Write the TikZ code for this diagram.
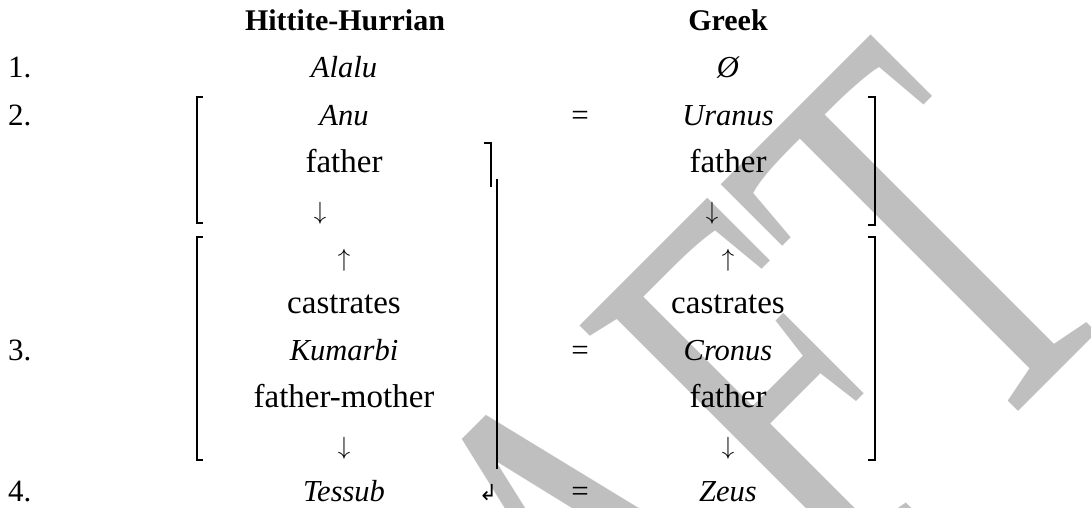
\documentclass[tikz,border=0pt]{standalone}
\usepackage{fontspec}
\setmainfont{Liberation Serif}
\newfontfamily\arrowfont{DejaVu Sans}
\begin{document}
\begin{tikzpicture}[x=1pt,y=-1pt,
  txt/.style={anchor=base, inner sep=0pt, font=\fontsize{33}{38}\selectfont},
  god/.style={anchor=base, inner sep=0pt, font=\fontsize{30.5}{36}\selectfont\itshape},
  arr/.style={anchor=base, inner sep=0pt, font=\fontsize{31}{36}\selectfont},
  head/.style={anchor=base, inner sep=0pt, font=\fontsize{30}{36}\selectfont\bfseries},
  num/.style={anchor=base west, inner sep=0pt, font=\fontsize{31}{36}\selectfont},
  brk/.style={line width=1.6pt, line cap=rect}]
\useasboundingbox (0,0) rectangle (1091,508);
% background watermark, tall condensed letters on a 45 degree baseline
\node[anchor=base east, inner sep=0pt, rotate=45, text=black!25,
      font=\fontsize{566}{566}\selectfont] (wm) at (1138,292)
      {\scalebox{0.65}[1]{DRAFT}};

% headings
\node[head] (hh) at (345,31) {Hittite-Hurrian};
\node[head] (hg) at (728,31) {Greek};

% row numbers
\node[num] (n1) at (8,78) {1.};
\node[num] (n2) at (8,125) {2.};
\node[num] (n3) at (8,360) {3.};
\node[num] (n4) at (8,501) {4.};

% Hittite-Hurrian column
\node[god] (alalu) at (344,78) {Alalu};
\node[god] (anu) at (344,125) {Anu};
\node[txt] (f1) at (344,172) {father};
\node[arr] (d1) at (320,219) {$\downarrow$};
\node[arr] (u1) at (344,266) {$\uparrow$};
\node[txt] (c1) at (344,313) {castrates};
\node[god] (kum) at (344,360) {Kumarbi};
\node[txt] (fm) at (344,407) {father-mother};
\node[arr] (d2) at (344,454) {$\downarrow$};
\node[god] (tes) at (344,501) {Tessub};

% equals signs
\node[arr] (e2) at (580,125) {=};
\node[arr] (e3) at (580,360) {=};
\node[arr] (e4) at (580,501) {=};

% Greek column
\node[god] (empty) at (728,78) {Ø};
\node[god] (ura) at (728,125) {Uranus};
\node[txt] (f2) at (728,172) {father};
\node[arr] (d3) at (712,219) {$\downarrow$};
\node[arr] (u2) at (728,266) {$\uparrow$};
\node[txt] (c2) at (728,313) {castrates};
\node[god] (cro) at (728,360) {Cronus};
\node[txt] (f3) at (728,407) {father};
\node[arr] (d4) at (728,454) {$\downarrow$};
\node[god] (zeus) at (728,501) {Zeus};

% hook arrow closing the long bar
\node[anchor=base, inner sep=0pt, font=\fontsize{22}{26}\arrowfont] (hook) at (488,500) {↲};

% brackets
\draw[brk] (202,97) -- (197,97) -- (197,223) -- (202,223);
\draw[brk] (202,237) -- (197,237) -- (197,460) -- (202,460);
\draw[brk] (869,97) -- (875,97) -- (875,225) -- (869,225);
\draw[brk] (869,237) -- (875,237) -- (875,460) -- (869,460);
\draw[brk] (485,143) -- (491,143) -- (491,186);
\draw[brk] (497,180) -- (497,468);
\end{tikzpicture}
\end{document}
